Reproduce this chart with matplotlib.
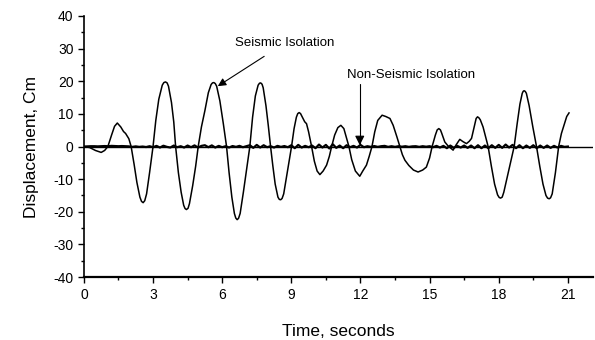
import numpy as np
import matplotlib
matplotlib.use('Agg')
import matplotlib.pyplot as plt
from matplotlib.ticker import MultipleLocator

plt.rcParams['font.family'] = ['Liberation Sans', 'DejaVu Sans']
plt.rcParams['axes.unicode_minus'] = False

# seismic isolation response (time s, displacement cm)
iso_time = [0.0, 0.25, 0.5, 0.75, 0.9, 1.04, 1.2, 1.33, 1.45, 1.6, 1.72, 1.81, 1.95, 2.05,
            2.18, 2.3, 2.43, 2.5, 2.57, 2.64, 2.72, 2.85, 3.0, 3.12, 3.25, 3.4, 3.47, 3.54,
            3.61, 3.67, 3.8, 3.9, 3.98, 4.1, 4.22, 4.33, 4.39, 4.45, 4.52, 4.58, 4.72, 4.85,
            4.96, 5.1, 5.25, 5.4, 5.52, 5.58, 5.64, 5.7, 5.76, 5.9, 6.05, 6.19, 6.3, 6.42,
            6.53, 6.59, 6.65, 6.71, 6.78, 6.92, 7.06, 7.2, 7.32, 7.44, 7.56, 7.62, 7.67,
            7.73, 7.78, 7.9, 8.0, 8.1, 8.2, 8.3, 8.42, 8.48, 8.54, 8.6, 8.67, 8.8, 8.92,
            9.01, 9.12, 9.22, 9.28, 9.34, 9.4, 9.45, 9.58, 9.66, 9.75, 9.88, 10.0, 10.12,
            10.24, 10.38, 10.53, 10.65, 10.75, 10.88, 11.02, 11.15, 11.28, 11.4, 11.5, 11.62,
            11.78, 11.97, 12.1, 12.26, 12.38, 12.5, 12.62, 12.75, 12.94, 13.1, 13.28, 13.42,
            13.58, 13.71, 13.82, 13.93, 14.1, 14.3, 14.5, 14.7, 14.86, 15.0, 15.11, 15.25,
            15.33, 15.4, 15.47, 15.52, 15.66, 15.8, 16.02, 16.15, 16.31, 16.45, 16.6, 16.72,
            16.82, 16.95, 17.02, 17.08, 17.14, 17.2, 17.32, 17.45, 17.54, 17.68, 17.82,
            17.95, 18.02, 18.08, 18.15, 18.22, 18.38, 18.52, 18.67, 18.8, 18.92, 19.02,
            19.06, 19.1, 19.15, 19.2, 19.32, 19.48, 19.64, 19.78, 19.92, 20.05, 20.12,
            20.19, 20.25, 20.32, 20.46, 20.6, 20.72, 20.85, 20.95, 21.05]
iso_disp = [0, -0.3, -1.2, -1.8, -1.2, 0, 3.5, 6.2, 7.2, 6.0, 4.6, 4.0, 2.4, 0,
            -5.5, -11, -15.5, -16.8, -17.2, -16.6, -14.5, -8, 0, 8, 14.5, 18.8, 19.6, 19.8,
            19.5, 18.5, 13.5, 7.5, 0, -8, -14, -18, -19.0, -19.3, -18.9, -17.5, -12, -6,
            0, 6, 11, 16.5, 19, 19.5, 19.6, 19.3, 18.5, 14, 7, 0, -8, -15.5,
            -20.5, -21.9, -22.4, -22.0, -20.5, -14, -7, 0, 9, 15.5, 18.8, 19.4, 19.5,
            19.1, 18, 12.5, 6.5, 0, -6, -11.5, -15.5, -16.2, -16.3, -15.9, -14.5, -9, -4,
            0, 5.5, 9, 10.1, 10.4, 10.1, 9.4, 7.6, 7.0, 4.5, 0, -4.5, -7.5,
            -8.6, -7.5, -5.7, -3, 0, 3.5, 5.8, 6.5, 5.5, 2.5, 0, -4,
            -7.5, -9.1, -7.5, -5.7, -3, 0, 4.5, 8, 9.6, 9.2, 8.6, 6.5,
            3, 0, -2.5, -4.2, -5.8, -7.2, -7.8, -7.2, -6.3, -3.5, 0, 3.5,
            5.1, 5.5, 5.1, 4.2, 1.4, 0.2, -1.1, 0.5, 2.2, 1.5, 0.9, 1.6,
            2.5, 6.5, 8.6, 9.1, 8.8, 8.2, 6.0, 2.5, 0, -6, -11.5,
            -14.8, -15.6, -15.8, -15.5, -14, -9, -4.5, 0, 7, 13, 16.3,
            16.9, 17.1, 16.9, 16.3, 12.5, 6, 0, -6, -11.5, -15, -15.8,
            -16.0, -15.7, -14.5, -8, 0, 4, 7, 9.2, 10.3]

# non-seismic isolation response, sampled every 0.15 s
non_dt = 0.15
non_disp = [0, 0.05, 0.1, 0.1, 0.05, 0.1, 0.15, 0.1, 0.2, 0.15,
            0.1, 0.15, 0.1, 0.05, -0.1, 0.05, -0.1, 0.0, -0.15, 0.1,
            -0.2, 0.2, -0.3, 0.25, -0.1, -0.3, 0.3, -0.2, 0.1, -0.3,
            0.3, -0.2, 0.35, -0.3, 0.2, 0.4, -0.2, 0.35, -0.3, 0.2,
            -0.2, 0.1, -0.3, 0.15, -0.1, 0.2, -0.2, 0.1, 0.4, -0.4,
            0.5, -0.3, 0.4, -0.2, 0.1, -0.3, 0.2, -0.1, 0.15, -0.2,
            0.4, -0.5, 0.5, -0.3, 0.2, -0.2, 0.3, -0.5, 0.6, -0.3,
            0.5, -0.6, 0.7, -0.4, 0.3, -0.5, 0.4, -0.2, 0.2, -0.3,
            0.5, -0.2, 0.1, -0.1, 0.15, -0.1, 0.1, 0.2, -0.1, 0.1,
            -0.1, 0.1, -0.05, 0.1, -0.1, 0.05, 0.1, -0.1, 0.1, -0.05,
            0.1, -0.2, 0.2, -0.3, 0.2, -0.5, 0.3, -0.4, 0.2, -0.3,
            0.3, -0.4, 0.3, -0.5, 0.4, -0.5, 0.3, -0.5, 0.4, -0.4,
            0.5, -0.4, 0.6, -0.3, 0.5, -0.5, 0.4, -0.5, 0.3, -0.4,
            0.4, -0.5, 0.3, -0.4, 0.3, -0.4, 0.2, -0.3, 0.2, -0.1,
            0.0]
non_time = np.arange(len(non_disp)) * non_dt

x_ticks = [0, 3, 6, 9, 12, 15, 18, 21]
y_ticks = [-40, -30, -20, -10, 0, 10, 20, 30, 40]

fig = plt.figure(figsize=(5.95, 3.4), dpi=100)
ax = fig.add_axes([0.141, 0.185, 0.856, 0.768])

ax.axhline(0, color='black', lw=1.0)
ax.plot(non_time, non_disp, color='black', lw=1.6)
ax.plot(iso_time, iso_disp, color='black', lw=1.1)

ax.set_xlim(0, 22.1)
ax.set_ylim(-40, 40)
ax.set_xticks(x_ticks)
ax.set_yticks(y_ticks)
ax.xaxis.set_minor_locator(MultipleLocator(1.5))
ax.yaxis.set_minor_locator(MultipleLocator(5))
ax.tick_params(which='major', direction='out', length=4, width=1, labelsize=10)
ax.tick_params(which='minor', direction='out', length=2.5, width=1)

for s in ['top', 'right']:
    ax.spines[s].set_visible(False)
ax.spines['left'].set_linewidth(1.2)
ax.spines['bottom'].set_linewidth(1.6)

ax.set_xlabel('Time, seconds', fontsize=12.5, labelpad=16)
ax.set_ylabel('Displacement, Cm', fontsize=12.5, labelpad=10)

ax.annotate('Seismic Isolation', xy=(5.81, 18.5), xytext=(8.72, 31.7),
            ha='center', va='center', fontsize=9.5,
            arrowprops=dict(arrowstyle='-|>', color='black', lw=0.8,
                            mutation_scale=12, shrinkA=6, shrinkB=0))
ax.annotate('Non-Seismic Isolation', xy=(11.97, 0.4), xytext=(14.2, 21.8),
            ha='center', va='center', fontsize=9.5,
            arrowprops=dict(arrowstyle='-|>', color='black', lw=0.8,
                            mutation_scale=14, shrinkA=0, shrinkB=0,
                            connectionstyle='angle,angleA=0,angleB=90,rad=0',
                            relpos=(0.27, 0.0)))

fig.savefig('out.png', dpi=100)
